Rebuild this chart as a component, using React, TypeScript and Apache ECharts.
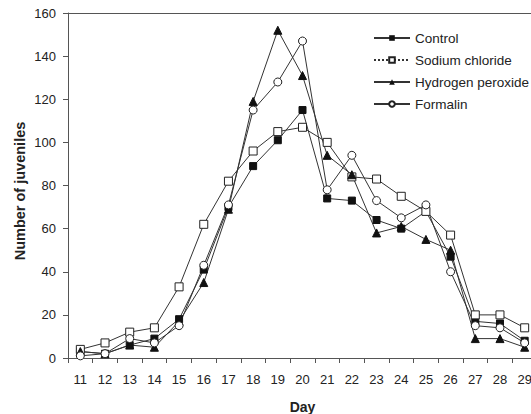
import React, { useEffect, useRef } from "react";
import * as echarts from "echarts";

const days = ["11", "12", "13", "14", "15", "16", "17", "18", "19", "20", "21", "22", "23", "24", "25", "26", "27", "28", "29"];
const control = [3, 2, 6, 9, 18, 41, 70, 89, 101, 115, 74, 73, 64, 60, 68, 47, 17, 16, 8];
const sodiumChloride = [4, 7, 12, 14, 33, 62, 82, 96, 105, 107, 100, 84, 83, 75, 68, 57, 20, 20, 14];
const hydrogenPeroxide = [3, 2, 6, 5, 17, 35, 69, 119, 152, 131, 94, 85, 58, 61, 55, 50, 9, 9, 5];
const formalin = [1, 2, 9, 7, 15, 43, 71, 115, 128, 147, 78, 94, 73, 65, 71, 40, 15, 14, 7];
const seriesNames = ["Control", "Sodium chloride", "Hydrogen peroxide", "Formalin"];
const yTitle = "Number of juveniles";

export default function App() {
  const ref = useRef<HTMLDivElement>(null);
  useEffect(() => {
    if (!ref.current) return;
    const chart = echarts.init(ref.current, undefined, { renderer: "svg" });
    const lineStyle = { color: "#333", width: 1 };
    const font = "Liberation Sans, Arial, sans-serif";
    chart.setOption({
      animation: false,
      backgroundColor: "#fff",
      textStyle: { fontFamily: font },
      grid: { left: 68, right: -6, top: 13, bottom: 56, containLabel: false, outerBoundsMode: "none" },
      graphic: [
        {
          type: "text",
          x: 20,
          y: 191,
          rotation: Math.PI / 2,
          style: {
            text: yTitle,
            align: "center",
            verticalAlign: "middle",
            fontSize: 14.5,
            fontWeight: "bold",
            fontFamily: font,
            fill: "#222",
          },
        },
      ],
      legend: {
        left: 368,
        top: 26,
        orient: "vertical",
        itemWidth: 36,
        itemHeight: 7,
        itemGap: 8,
        textStyle: { fontSize: 13.5, color: "#222", fontFamily: font },
        data: [
          { name: seriesNames[0] },
          { name: seriesNames[1], lineStyle: { type: "dotted" } },
          { name: seriesNames[2] },
          { name: seriesNames[3] },
        ],
      },
      xAxis: [
        {
          type: "category",
          data: days,
          boundaryGap: true,
          name: "Day",
          nameLocation: "middle",
          nameGap: 42,
          nameTextStyle: { fontWeight: "bold", fontSize: 14, color: "#222" },
          axisLine: { lineStyle: { color: "#555", width: 1 } },
          axisTick: { show: true, length: 5, lineStyle: { color: "#555" } },
          axisLabel: { fontSize: 13, color: "#222", margin: 15 },
        },
        {
          type: "category",
          data: days,
          position: "top",
          axisLine: { show: true, lineStyle: { color: "#555", width: 1 } },
          axisTick: { show: false },
          axisLabel: { show: false },
        },
      ],
      yAxis: {
        type: "value",
        min: 0,
        max: 160,
        interval: 20,
        axisLine: { show: true, lineStyle: { color: "#555", width: 1 } },
        axisTick: { show: true, length: 5, lineStyle: { color: "#555" } },
        axisLabel: { fontSize: 13, color: "#222", margin: 12 },
        splitLine: { show: false },
      },
      series: [
        {
          name: seriesNames[0],
          type: "line",
          data: control,
          symbol: "rect",
          symbolSize: 7,
          lineStyle,
          itemStyle: { color: "#111", borderColor: "#111" },
        },
        {
          name: seriesNames[1],
          type: "line",
          data: sodiumChloride,
          symbol: "rect",
          symbolSize: 8,
          lineStyle,
          itemStyle: { color: "#fff", borderColor: "#222", borderWidth: 1 },
        },
        {
          name: seriesNames[2],
          type: "line",
          data: hydrogenPeroxide,
          symbol: "triangle",
          symbolSize: 8,
          lineStyle,
          itemStyle: { color: "#111", borderColor: "#111" },
        },
        {
          name: seriesNames[3],
          type: "line",
          data: formalin,
          symbol: "circle",
          symbolSize: 8,
          lineStyle,
          itemStyle: { color: "#fff", borderColor: "#222", borderWidth: 1 },
        },
      ],
    });
    return () => chart.dispose();
  }, []);
  return (
    <div
      ref={ref}
      style={{ position: "fixed", left: 0, top: 0, width: 531, height: 414, background: "#fff" }}
    />
  );
}
